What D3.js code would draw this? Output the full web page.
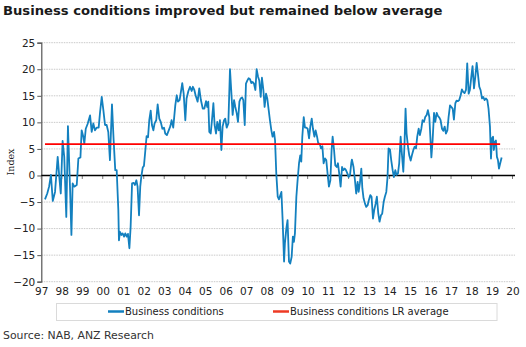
<!DOCTYPE html>
<html><head><meta charset="utf-8">
<script src="https://cdn.jsdelivr.net/npm/d3@7"></script>
<style>body{margin:0;background:#fff}svg{display:block}</style>
</head><body>
<script>
// ---- data (decimal year, index value) ----
const t = [1997.18,1997.29,1997.38,1997.47,1997.56,1997.67,1997.80,1997.88,1997.95,1998.04,1998.12,1998.22,1998.30,1998.40,1998.47,1998.53,1998.61,1998.73,1998.81,1998.91,1998.97,1999.05,1999.10,1999.17,1999.26,1999.38,1999.46,1999.54,1999.62,1999.70,1999.80,1999.87,1999.95,2000.03,2000.11,2000.19,2000.27,2000.35,2000.45,2000.53,2000.61,2000.68,2000.76,
2000.79,2000.84,2000.91,2000.97,2001.04,2001.10,2001.17,2001.23,2001.30,2001.36,2001.43,2001.51,2001.57,2001.64,2001.70,2001.77,2001.83,2001.88,2001.95,2002.01,2002.08,2002.14,2002.21,2002.27,2002.34,2002.40,2002.47,2002.53,2002.61,2002.68,2002.76,2002.83,2002.91,2002.99,2003.05,2003.13,2003.22,2003.30,2003.36,2003.44,2003.54,2003.61,2003.67,2003.75,2003.83,2003.88,2003.95,2004.03,2004.09,2004.18,2004.26,2004.34,2004.40,2004.47,2004.53,
2004.63,2004.71,2004.79,2004.88,2004.96,2005.04,2005.10,2005.15,2005.20,2005.27,2005.33,2005.40,2005.46,2005.53,2005.59,2005.66,2005.72,2005.79,2005.85,2005.92,2005.98,2006.05,2006.13,2006.21,2006.27,2006.34,2006.41,2006.47,2006.54,2006.60,2006.67,2006.73,2006.80,2006.86,2006.93,2006.99,2007.06,2007.12,2007.19,2007.25,2007.32,2007.38,2007.45,2007.51,2007.58,2007.64,2007.71,2007.77,2007.84,2007.90,2007.97,2008.03,2008.10,2008.16,2008.23,2008.29,2008.36,
2008.41,2008.47,2008.54,2008.60,2008.67,2008.72,2008.78,2008.85,2008.89,2008.96,2009.02,2009.09,2009.15,2009.22,2009.28,2009.33,2009.38,2009.45,2009.51,2009.58,2009.64,2009.69,2009.74,2009.81,2009.87,2009.94,2010.00,2010.07,2010.13,2010.20,2010.26,2010.33,2010.39,2010.46,2010.52,2010.59,2010.65,2010.72,2010.78,2010.85,2010.91,2010.98,2011.04,2011.11,2011.17,2011.22,2011.29,2011.35,2011.42,2011.48,2011.55,2011.61,2011.68,2011.74,2011.81,2011.87,2011.94,2012.00,2012.07,2012.13,
2012.16,2012.24,2012.31,2012.37,2012.44,2012.49,2012.55,2012.62,2012.67,2012.73,2012.80,2012.86,2012.93,2012.99,2013.06,2013.12,2013.19,2013.25,2013.32,2013.38,2013.45,2013.51,2013.58,2013.64,2013.71,2013.77,2013.84,2013.90,2013.95,2014.02,2014.08,2014.15,2014.21,2014.28,2014.34,2014.41,2014.47,2014.54,2014.60,2014.67,2014.73,2014.78,2014.83,2014.90,2014.96,2015.03,2015.09,2015.16,2015.22,2015.29,2015.35,2015.42,2015.48,2015.55,2015.61,2015.68,2015.74,2015.81,2015.87,2015.94,2015.99,2016.04,
2016.10,2016.17,2016.23,2016.30,2016.36,2016.43,2016.49,2016.56,2016.62,2016.69,2016.75,2016.82,2016.88,2016.95,2017.01,2017.08,2017.14,2017.21,2017.27,2017.34,2017.40,2017.47,2017.53,2017.60,2017.66,2017.73,2017.79,2017.86,2017.92,2017.99,2018.05,2018.12,2018.18,2018.25,2018.31,2018.38,2018.44,2018.51,2018.57,2018.64,2018.70,2018.77,2018.83,2018.90,2018.95,2019.00,2019.05,2019.09,2019.14,2019.19,2019.24,2019.29,2019.34,2019.40,2019.47];
const v = [-4.5,-3.4,-2.1,0.1,-4.8,-3.1,3.5,-0.3,-3.4,6.5,3.5,-7.8,9.3,-2.1,-11.2,-1.5,-2.1,-1.8,3.2,3.4,8.5,7.3,6.0,8.8,9.7,11.3,8.2,9.8,8.5,9.0,9.0,12.0,14.8,12.3,9.5,9.5,8.2,2.9,13.4,6.7,1.0,1.0,-6.5,
-12.2,-10.6,-11.2,-10.9,-11.5,-10.9,-11.5,-11.0,-13.7,-9.7,-1.5,-1.4,-1.8,-0.9,-2.1,-7.5,-2.1,-0.3,1.5,1.8,4.8,7.4,7.2,10.4,12.2,9.5,8.5,9.8,10.4,13.4,10.7,10.1,8.8,9.0,7.9,7.6,8.5,9.3,10.4,9.0,13.2,15.1,13.9,14.2,16.1,17.4,15.4,10.4,14.5,15.9,16.7,15.9,16.7,16.1,15.1,
13.9,16.4,14.2,12.6,12.6,14.0,12.9,13.9,8.2,7.9,10.4,13.6,9.5,7.9,10.1,8.5,10.4,4.8,9.2,10.4,10.7,9.0,9.8,20.0,16.1,11.4,14.2,12.9,11.7,10.1,13.9,14.5,14.7,14.2,9.5,17.3,17.9,18.3,18.1,17.4,17.6,17.3,16.1,20.0,18.6,17.9,14.8,18.4,16.1,12.9,15.4,14.5,12.3,10.4,8.5,7.3,8.2,
6.6,0.4,-4.0,-4.5,-3.7,-3.1,-8.4,-16.2,-12.8,-10.0,-8.4,-16.2,-16.6,-15.3,-11.5,-12.5,-10.9,-4.0,-0.9,2.3,3.8,2.6,7.3,11.0,9.0,9.0,8.8,7.0,9.2,10.7,8.8,7.3,8.5,7.3,6.0,6.0,5.1,5.5,2.3,3.2,2.9,0.1,-2.1,-0.9,4.8,7.3,4.8,1.9,1.6,2.3,0.1,-2.1,1.6,1.0,1.3,1.0,0.4,-0.3,0.1,2.3,
3.0,1.6,-0.9,-3.4,-1.2,-3.1,-1.5,1.3,-2.4,-4.3,-5.3,-5.9,-5.6,-4.6,-3.7,-4.0,-8.1,-6.5,-5.3,-4.0,-7.2,-8.7,-7.5,-7.2,-5.0,-4.0,-3.1,-0.3,5.1,4.9,2.9,1.0,-0.3,1.0,0.1,0.4,2.3,7.3,4.1,0.7,6.0,12.6,7.9,5.4,3.8,2.8,3.8,4.8,5.4,5.1,7.3,8.8,7.6,8.8,10.4,10.1,11.0,11.4,12.3,11.0,7.3,3.4,
6.6,11.8,10.1,11.8,11.2,10.9,10.4,8.8,8.4,9.2,7.9,8.5,11.0,13.2,12.9,12.6,10.5,13.6,14.1,14.0,14.2,15.1,16.2,15.7,15.5,16.1,21.1,15.4,16.1,18.6,20.6,16.4,18.4,21.2,19.2,16.7,16.1,14.5,14.8,14.2,14.5,14.2,12.6,9.2,3.2,7.0,7.3,4.8,6.3,6.6,3.5,2.9,1.3,2.3,3.4];
const lrAverage = 5.9;
const yTicks = [-20,-15,-10,-5,0,5,10,15,20,25];
const xTickYears = d3.range(1997, 2021);
const xTickLabels = xTickYears.map(y => String(y % 100).padStart(2, "0"));
const seriesNames = ["Business conditions", "Business conditions LR average"];
const titleText = "Business conditions improved but remained below average";
const sourceText = "Source: NAB, ANZ Research";

// ---- layout ----
const W = 526, H = 347;
const blue = "#1380bf", red = "#ff0000";
const font = "'DejaVu Sans', Verdana, sans-serif";
const svg = d3.select("body").append("svg").attr("width", W).attr("height", H);

const x = d3.scaleLinear().domain([1997, 2020]).range([41.3, 512.5]);
const y = d3.scaleLinear().domain([-20, 25]).range([281.7, 42.7]);
const gridRight = 515;

// title
svg.append("text").attr("x", 3).attr("y", 15).attr("font-family", font)
  .attr("font-weight", "bold").attr("font-size", 13.15).attr("fill", "#1a1a1a").text(titleText);

// gridlines
svg.append("g").selectAll("line").data(yTicks.filter(d => d !== 0)).join("line")
  .attr("x1", x(1997)).attr("x2", gridRight).attr("y1", d => y(d)).attr("y2", d => y(d))
  .attr("stroke", "#c9c9c9").attr("stroke-width", 1).attr("stroke-dasharray", "1.5,1");

// y axis
const yAxis = d3.axisLeft(y).tickValues(yTicks).tickSize(4).tickFormat(d3.format("d"));
const gy = svg.append("g").attr("transform", `translate(${x(1997)},0)`).call(yAxis);
gy.select(".domain").attr("stroke", "#555").attr("stroke-width", 1.2);
gy.selectAll(".tick line").attr("stroke", "#555");
gy.selectAll("text").attr("font-family", font).attr("font-size", 10.5).attr("fill", "#222").attr("x", -6);

// zero line with year ticks
svg.append("g").selectAll("line").data(xTickYears).join("line")
  .attr("x1", d => x(d)).attr("x2", d => x(d)).attr("y1", y(0)).attr("y2", y(0) + 3.5)
  .attr("stroke", "#777").attr("stroke-width", 1);
svg.append("line").attr("x1", x(1997)).attr("x2", gridRight).attr("y1", y(0)).attr("y2", y(0))
  .attr("stroke", "#000").attr("stroke-width", 1.5);

// x axis labels at bottom
const xAxis = d3.axisBottom(x).tickValues(xTickYears).tickSize(0).tickPadding(6)
  .tickFormat((d, i) => xTickLabels[i]);
const gx = svg.append("g").attr("transform", `translate(0,${y(-20)})`).call(xAxis);
gx.select(".domain").remove();
gx.selectAll("text").attr("font-family", font).attr("font-size", 10.5).attr("fill", "#222");

// y axis title
svg.append("text").attr("transform", `translate(14,162) rotate(-90)`).attr("text-anchor", "middle")
  .attr("font-family", "'DejaVu Serif', 'Liberation Serif', serif").attr("font-size", 9.5).attr("fill", "#222").text("Index");

// series line
const data = t.map((d, i) => [d, v[i]]);
svg.append("path").datum(data)
  .attr("d", d3.line().x(d => x(d[0])).y(d => y(d[1])))
  .attr("fill", "none").attr("stroke", blue).attr("stroke-width", 1.8).attr("stroke-linejoin", "round");

// LR average
svg.append("line").attr("x1", x(d3.min(t))).attr("x2", x(d3.max(t)) - 1.5)
  .attr("y1", y(lrAverage)).attr("y2", y(lrAverage)).attr("stroke", red).attr("stroke-width", 1.8);

// legend
svg.append("rect").attr("x", 56.5).attr("y", 303.5).attr("width", 440.5).attr("height", 17)
  .attr("fill", "none").attr("stroke", "#dadada");
const leg = [{name: seriesNames[0], color: blue, x0: 108}, {name: seriesNames[1], color: "#ee3a24", x0: 273}];
const lg = svg.append("g").selectAll("g").data(leg).join("g");
lg.append("line").attr("x1", d => d.x0).attr("x2", d => d.x0 + 16).attr("y1", 311.5).attr("y2", 311.5)
  .attr("stroke", d => d.color).attr("stroke-width", 2.5);
lg.append("text").attr("x", d => d.x0 + 17).attr("y", 315.3).attr("font-family", font).attr("font-size", 10)
  .attr("fill", "#222").text(d => d.name);

// source
svg.append("text").attr("x", 3).attr("y", 339).attr("font-family", font).attr("font-size", 10.9)
  .attr("fill", "#333").text(sourceText);
</script>
</body></html>
